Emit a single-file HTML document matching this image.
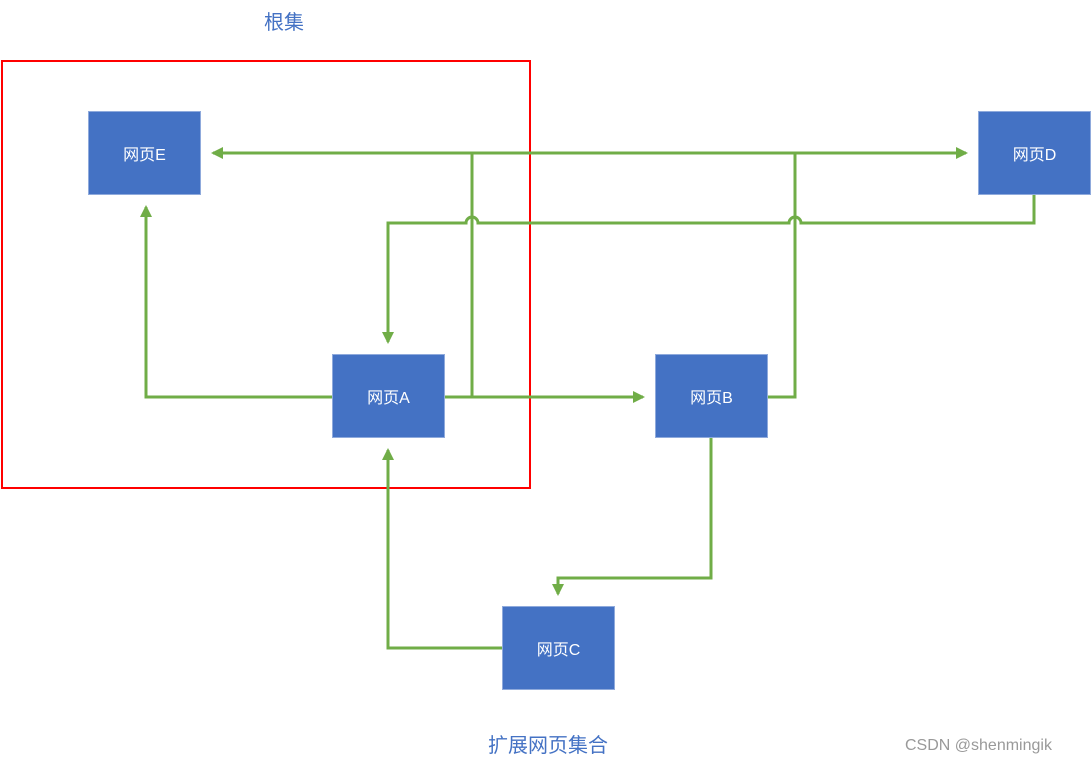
<!DOCTYPE html>
<html><head><meta charset="utf-8"><style>
body{margin:0;width:1092px;height:767px;background:#fff;overflow:hidden;position:relative;font-family:"Liberation Sans","Noto Sans CJK SC",sans-serif}
.b{position:absolute;background:#4472c4;border:1px solid #8faadc;box-sizing:border-box;color:#fff;font-size:16px;display:flex;align-items:center;justify-content:center}
.t{position:absolute;color:#4472c4;font-size:20px}
</style></head><body>
<svg width="1092" height="767" style="position:absolute;left:0;top:0">
<defs><marker id="a" markerWidth="8" markerHeight="8" refX="6" refY="4" orient="auto" markerUnits="userSpaceOnUse" viewBox="0 0 8 8"><path d="M0,0 L8,4 L0,8 z" fill="#70ad47"/></marker>
<marker id="m" markerWidth="12" markerHeight="12" refX="10" refY="6" orient="auto" markerUnits="userSpaceOnUse"><path d="M0,0 L12,6 L0,12 z" fill="#70ad47"/></marker></defs>
<rect x="2" y="61" width="528" height="427" fill="none" stroke="#ff0000" stroke-width="2"/>
<g fill="none" stroke="#70ad47" stroke-width="3">
<path d="M444,397 H472 V153 H213" marker-end="url(#m)"/>
<path d="M767,397 H795 V153 H966" marker-end="url(#m)"/>
<path d="M472,153 H795"/>
<path d="M1034,195 V223 H801 a6,6 0 0 0 -12,0 H478 a6,6 0 0 0 -12,0 H388 V342" marker-end="url(#m)"/>
<path d="M332,397 H146 V207" marker-end="url(#m)"/>
<path d="M472,397 H643" marker-end="url(#m)"/>
<path d="M711,438 V578 H558 V594" marker-end="url(#m)"/>
<path d="M502,648 H388 V450" marker-end="url(#m)"/>
</g></svg>
<div class="b" style="left:88px;top:111px;width:113px;height:84px">网页E</div>
<div class="b" style="left:978px;top:111px;width:113px;height:84px">网页D</div>
<div class="b" style="left:332px;top:354px;width:113px;height:84px">网页A</div>
<div class="b" style="left:655px;top:354px;width:113px;height:84px">网页B</div>
<div class="b" style="left:502px;top:606px;width:113px;height:84px">网页C</div>
<div class="t" style="left:264px;top:6px">根集</div>
<div class="t" style="left:488px;top:729px">扩展网页集合</div>
<div style="position:absolute;left:905px;top:737px;color:#999;font-size:16px">CSDN @shenmingik</div>
</body></html>
